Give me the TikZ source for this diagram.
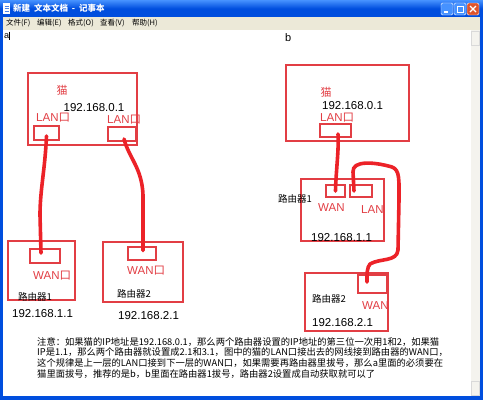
\documentclass[tikz,border=0pt]{standalone}
\usepackage{fontspec}
\setmainfont{Liberation Sans}
\newfontfamily\cjk{Noto Sans CJK SC}
\usetikzlibrary{positioning}

\definecolor{boxred}{RGB}{226,62,68}
\definecolor{cablered}{RGB}{236,34,40}
\definecolor{xpblue}{RGB}{0,78,222}
\definecolor{xplight}{RGB}{70,146,255}
\definecolor{menugray}{RGB}{236,233,216}
\definecolor{scrollgray}{RGB}{244,243,238}
\definecolor{closered}{RGB}{222,84,44}

\begin{document}
\begin{tikzpicture}[x=1pt,y=-1pt,
    frame/.style={draw=boxred,line width=1.1pt},
    port/.style={draw=boxred,line width=1.1pt,inner sep=0pt,minimum height=13pt},
    cable/.style={draw=cablered,line width=3.6pt,line cap=round,line join=round},
    ip/.style={font=\fontsize{11.5}{13}\selectfont,text=black,inner sep=0pt},
    lbl/.style={font=\fontsize{11.5}{13}\selectfont,text=boxred,inner sep=0pt},
    rname/.style={font=\cjk\fontsize{9.5}{11}\selectfont,text=black,inner sep=0pt},
    menuitem/.style={font=\cjk\fontsize{7.5}{9}\selectfont,inner sep=0pt,anchor=west},
  ]
  \useasboundingbox (0,0) rectangle (483,400);
  % window
  \fill[xpblue] (0,0) rectangle (483,400);
  \shade[top color=xplight,bottom color=xpblue,middle color=xpblue] (0,0) rectangle (483,17);
  \fill[menugray] (3,17) rectangle (480,30);
  \fill[white] (3,30) rectangle (471,396);
  \fill[scrollgray] (471,30) rectangle (480,396);
  \draw[gray!30] (471.5,31) rectangle (479.5,45) (471.5,381) rectangle (479.5,395);
  % title bar
  \fill[white] (3,3) rectangle (10,14);
  \draw[xpblue!70,line width=.6pt] (4.5,6) -- (8.5,6) (4.5,8.5) -- (8.5,8.5) (4.5,11) -- (8.5,11);
  \node[font=\cjk\bfseries\fontsize{8.5}{10}\selectfont,text=white,inner sep=0pt,anchor=west] (title) at (13,8.5) {新建\ \ 文本文档\ \ -\ \ 记事本};
  \draw[white,fill=xplight,rounded corners=1.5pt] (441,3) rectangle (453,15);
  \fill[white] (444,11) rectangle (448,13);
  \draw[white,fill=xplight,rounded corners=1.5pt] (454,3) rectangle (466,15);
  \draw[white,line width=.8pt] (457,6.5) rectangle (463,12);
  \draw[white,fill=closered,rounded corners=1.5pt] (467,3) rectangle (479,15);
  \draw[white,line width=1.3pt] (470,6) -- (476,12) (476,6) -- (470,12);
  % menu
  \node[menuitem] (mfile) at (6,23.5) {文件(F)};
  \node[menuitem] (medit) at (37,23.5) {编辑(E)};
  \node[menuitem] (mformat) at (68,23.5) {格式(O)};
  \node[menuitem] (mview) at (100,23.5) {查看(V)};
  \node[menuitem] (mhelp) at (132,23.5) {帮助(H)};
  \node[font=\fontsize{9}{10}\selectfont,inner sep=0pt,anchor=west] (taga) at (4,36) {a};
  \draw[black,line width=.5pt] (9.5,31.5) -- (9.5,40);
  \node[font=\fontsize{11}{13}\selectfont,inner sep=0pt,anchor=west] (tagb) at (285,38) {b};

  % a: cat and two routers
  \draw[frame] (28,73) rectangle (137,145);
  \node[lbl,font=\cjk\fontsize{11}{13}\selectfont] (catA) at (62,90) {猫};
  \node[ip] (ipcatA) at (94,108) {192.168.0.1};
  \node[lbl,anchor=west] (lanA1) at (36,118) {LAN{\cjk 口}};
  \node[lbl,anchor=west] (lanA2) at (107,120) {LAN{\cjk 口}};
  \node[port,minimum width=25pt,minimum height=14pt] (pA1) at (46.5,133) {};
  \node[port,minimum width=28pt,minimum height=14pt] (pA2) at (122,134) {};

  \draw[frame] (8,241) rectangle (75,300);
  \node[port,minimum width=30pt,minimum height=14pt] (pB1) at (45,256) {};
  \node[lbl,anchor=west] (wanB1) at (33,276) {WAN{\cjk 口}};
  \node[rname,anchor=west] (rB1) at (18,297) {路由器1};
  \node[ip,anchor=west] (ipB1) at (12,314) {192.168.1.1};

  \draw[frame] (103,242) rectangle (183,302);
  \node[port,minimum width=28pt] (pC1) at (142,253.5) {};
  \node[lbl,anchor=west] (wanC1) at (127,271) {WAN{\cjk 口}};
  \node[rname,anchor=west] (rC1) at (117,294) {路由器2};
  \node[ip,anchor=west] (ipC1) at (118,316) {192.168.2.1};

  \draw[cable] ([yshift=-3pt]pA1.center) .. controls (45,170) and (40,190) .. (40,215)
    -- ([xshift=-4pt,yshift=3pt]pB1.center);
  \draw[cable] ([xshift=2pt,yshift=-5pt]pA2.center) .. controls (129,158) and (142,168) .. (143,195)
    -- ([xshift=1pt,yshift=3pt]pC1.center);

  % b: cat, router 1 behind it, router 2 behind router 1
  \draw[frame] (286,65) rectangle (409,141);
  \node[lbl,font=\cjk\fontsize{11}{13}\selectfont] (catB) at (326,92) {猫};
  \node[ip,anchor=west] (ipcatB) at (322,106) {192.168.0.1};
  \node[lbl,anchor=west] (lanR0) at (320,117.5) {LAN{\cjk 口}};
  \node[port,minimum width=31pt] (pR0) at (335.5,130.5) {};

  \draw[frame] (301,179) rectangle (384,241);
  \node[port,minimum width=19pt,minimum height=12pt] (pR1a) at (335.5,191) {};
  \node[port,minimum width=22pt,minimum height=12pt] (pR1b) at (361,191) {};
  \node[rname,anchor=west] (rR1) at (278,199) {路由器1};
  \node[lbl,anchor=west] (wanR1) at (318,208) {WAN};
  \node[lbl,anchor=west] (lanR1) at (361,210) {LAN};
  \node[ip,anchor=west] (ipR1) at (311,238) {192.168.1.1};

  \draw[frame] (305,273) rectangle (388,331);
  \node[port,minimum width=29pt,minimum height=18pt] (pR2) at (372.5,284) {};
  \node[rname,anchor=west] (rR2) at (312,299) {路由器2};
  \node[lbl,anchor=west] (wanR2) at (362,306) {WAN};
  \node[ip,anchor=west] (ipR2) at (312,323) {192.168.2.1};

  \draw[cable] ([xshift=2.5pt,yshift=-3.5pt]pR0.center) .. controls (339,150) and (336,170) .. (pR1a.center);
  \draw[cable] ([xshift=-7pt]pR1b.center) -- (353,172) .. controls (352,160) and (375,162) .. (392,167)
    .. controls (400,170) and (399,180) .. (399,200) -- (398,250)
    .. controls (397,262) and (380,258) .. (370,264)
    .. controls (367,268) and (367,272) .. ([xshift=-5.5pt,yshift=2pt]pR2.center);

  % note
  \node[font=\cjk\fontsize{9.3}{10.8}\selectfont,align=left,inner sep=0pt,anchor=north west] (note) at (37,337)
    {注意：如果猫的IP地址是192.168.0.1，那么两个路由器设置的IP地址的第三位一次用1和2，如果猫\\
     IP是1.1，那么两个路由器就设置成2.1和3.1，图中的猫的LAN口接出去的网线接到路由器的WAN口，\\
     这个规律是上一层的LAN口接到下一层的WAN口，如果需要再路由器里拔号，那么a里面的必须要在\\
     猫里面拔号，推荐的是b，b里面在路由器1拔号，路由器2设置成自动获取就可以了};
\end{tikzpicture}
\end{document}
